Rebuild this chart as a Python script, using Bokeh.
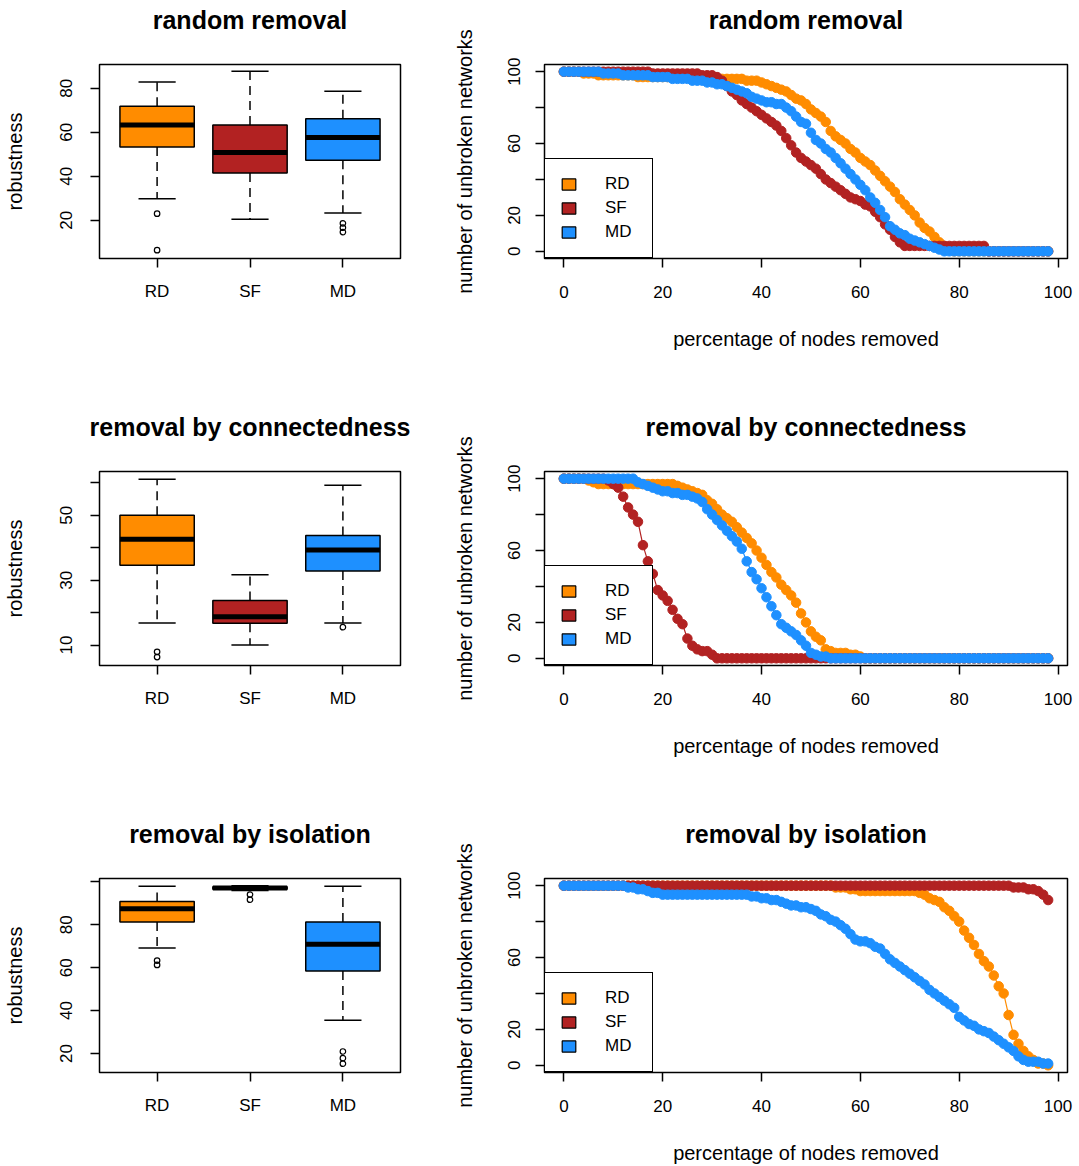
from bokeh.plotting import figure
from bokeh.layouts import column, row
from bokeh.models import Range1d, FixedTicker, Legend, LegendItem, LinearAxis
from bokeh.embed import file_html
from bokeh.resources import INLINE
import numpy as np

FONT = "Liberation Sans"
groups = ["RD", "SF", "MD"]
group_pos = [1, 2, 3]
group_colors = ["#FF8C00", "#B22222", "#1E90FF"]

panel_titles = ["random removal", "removal by connectedness", "removal by isolation"]

# ---------------- boxplot statistics ----------------
# order per panel: RD, SF, MD
box_low = [[29.8, 20.5, 23.3], [16.8, 10.0, 16.8], [69.2, 96.0, 35.5]]
box_q1 = [[53.3, 41.5, 47.3], [34.6, 16.7, 32.8], [81.3, 96.6, 58.4]]
box_med = [[63.3, 50.8, 57.6], [42.6, 18.7, 39.3], [87.5, 97.2, 70.9]]
box_q3 = [[71.8, 63.3, 66.1], [50.0, 23.7, 43.8], [90.9, 97.8, 81.3]]
box_high = [[82.9, 87.7, 78.6], [61.1, 31.7, 59.3], [98.0, 98.2, 98.0]]
box_out = [
    [[23.0, 6.4], [], [18.6, 16.6, 14.6]],
    [[7.9, 6.3], [], [15.5]],
    [[63.3, 61.3], [94.1, 91.7], [20.9, 17.8, 15.2]],
]
box_yrange = [(2.6, 90.8), (3.7, 63.5), (11.1, 101.6)]
box_yticks = [[20, 40, 60, 80], [10, 20, 30, 40, 50, 60], [20, 40, 60, 80, 100]]
box_yhidden = [[], [20, 40, 60], [100]]

# ---------------- unbroken networks vs percentage removed ----------------
pct_removed = list(range(99))

rd_random = [100, 100, 100, 100, 99, 99, 99, 98, 98, 98,
             98, 98, 98, 98, 98, 97, 97, 97, 97, 97,
             97, 97, 97, 97, 97, 97, 97, 97, 97, 97,
             96, 96, 96, 96, 96, 96, 96, 95, 95, 95,
             94, 93, 92, 91, 90, 89, 87, 85, 84, 82,
             79, 77, 75, 72, 67, 64, 62, 60, 57, 55,
             52, 50, 48, 45, 42, 39, 36, 33, 29, 26,
             23, 20, 16, 13, 11, 8, 5, 3, 1, 0,
             0, 0, 0, 0, 0, 0, 0, 0, 0, 0,
             0, 0, 0, 0, 0, 0, 0, 0, 0]
sf_random = [100, 100, 100, 100, 100, 100, 100, 100, 100, 100,
             100, 100, 100, 100, 100, 100, 100, 100, 99, 99,
             99, 99, 99, 99, 99, 99, 99, 99, 98, 98,
             98, 97, 95, 92, 89, 87, 84, 82, 80, 78,
             76, 74, 72, 70, 67, 63, 59, 55, 52, 50,
             48, 46, 43, 40, 38, 36, 34, 32, 30, 29,
             28, 26, 25, 22, 19, 15, 12, 8, 5, 3,
             3, 3, 3, 3, 3, 3, 3, 3, 3, 3,
             3, 3, 3, 3, 3, 3, 0, 0, 0, 0,
             0, 0, 0, 0, 0, 0, 0, 0, 0]
md_random = [100, 100, 100, 100, 100, 100, 100, 100, 99, 99,
             99, 99, 98, 98, 98, 98, 98, 98, 97, 97,
             97, 97, 96, 96, 96, 96, 95, 95, 95, 94,
             94, 93, 93, 92, 91, 90, 89, 88, 86, 85,
             84, 83, 83, 82, 82, 80, 78, 75, 72, 71,
             66, 62, 60, 57, 55, 52, 49, 46, 43, 40,
             37, 34, 30, 27, 23, 19, 14, 12, 10, 9,
             7, 6, 5, 4, 3, 2, 1, 0, 0, 0,
             0, 0, 0, 0, 0, 0, 0, 0, 0, 0,
             0, 0, 0, 0, 0, 0, 0, 0, 0]

rd_connect = [100, 100, 100, 100, 100, 99, 98, 97, 97, 97,
              97, 97, 97, 97, 97, 97, 97, 97, 97, 97,
              97, 97, 97, 96, 95, 94, 93, 92, 91, 88,
              86, 83, 80, 78, 76, 73, 70, 67, 64, 60,
              56, 52, 48, 45, 41, 38, 35, 31, 25, 20,
              15, 12, 10, 5, 4, 3, 3, 3, 2, 2,
              1, 0, 0, 0, 0, 0, 0, 0, 0, 0,
              0, 0, 0, 0, 0, 0, 0, 0, 0, 0,
              0, 0, 0, 0, 0, 0, 0, 0, 0, 0,
              0, 0, 0, 0, 0, 0, 0, 0, 0]
sf_connect = [100, 100, 100, 100, 100, 100, 100, 100, 100, 99,
              97, 95, 90, 84, 80, 76, 63, 54, 47, 38,
              35, 32, 27, 22, 19, 11, 7, 5, 4, 4,
              2, 0, 0, 0, 0, 0, 0, 0, 0, 0,
              0, 0, 0, 0, 0, 0, 0, 0, 0, 0,
              0, 0, 0, 0, 0, 0, 0, 0, 0, 0,
              0, 0, 0, 0, 0, 0, 0, 0, 0, 0,
              0, 0, 0, 0, 0, 0, 0, 0, 0, 0,
              0, 0, 0, 0, 0, 0, 0, 0, 0, 0,
              0, 0, 0, 0, 0, 0, 0, 0, 0]
md_connect = [100, 100, 100, 100, 100, 100, 100, 100, 100, 100,
              100, 100, 100, 100, 100, 98, 97, 96, 95, 94,
              93, 93, 92, 92, 91, 91, 90, 89, 87, 83,
              80, 77, 74, 71, 68, 65, 61, 54, 48, 44,
              39, 34, 29, 24, 19, 17, 15, 13, 10, 7,
              3, 2, 1, 1, 0, 0, 0, 0, 0, 0,
              0, 0, 0, 0, 0, 0, 0, 0, 0, 0,
              0, 0, 0, 0, 0, 0, 0, 0, 0, 0,
              0, 0, 0, 0, 0, 0, 0, 0, 0, 0,
              0, 0, 0, 0, 0, 0, 0, 0, 0]

rd_isolate = [100, 100, 100, 100, 100, 100, 100, 100, 100, 100,
              100, 100, 100, 100, 100, 100, 100, 100, 100, 100,
              100, 100, 100, 100, 100, 100, 100, 100, 100, 100,
              100, 100, 100, 100, 100, 100, 100, 100, 100, 100,
              100, 100, 100, 100, 100, 100, 100, 100, 100, 100,
              100, 100, 100, 100, 100, 99, 99, 99, 98, 98,
              97, 97, 97, 97, 97, 97, 97, 97, 97, 97,
              97, 97, 96, 95, 93, 92, 91, 88, 86, 83,
              80, 75, 71, 67, 62, 58, 55, 50, 44, 40,
              28, 17, 12, 8, 5, 3, 1, 1, 0]
sf_isolate = [100, 100, 100, 100, 100, 100, 100, 100, 100, 100,
              100, 100, 100, 100, 100, 100, 100, 100, 100, 100,
              100, 100, 100, 100, 100, 100, 100, 100, 100, 100,
              100, 100, 100, 100, 100, 100, 100, 100, 100, 100,
              100, 100, 100, 100, 100, 100, 100, 100, 100, 100,
              100, 100, 100, 100, 100, 100, 100, 100, 100, 100,
              100, 100, 100, 100, 100, 100, 100, 100, 100, 100,
              100, 100, 100, 100, 100, 100, 100, 100, 100, 100,
              100, 100, 100, 100, 100, 100, 100, 100, 100, 100,
              100, 99, 99, 99, 98, 98, 97, 95, 92]
md_isolate = [100, 100, 100, 100, 100, 100, 100, 100, 100, 100,
              100, 100, 100, 99, 99, 98, 98, 97, 96, 96,
              95, 95, 95, 95, 95, 95, 95, 95, 95, 95,
              95, 95, 95, 95, 95, 95, 95, 95, 94, 94,
              93, 93, 92, 92, 91, 90, 89, 89, 88, 88,
              87, 86, 84, 83, 81, 80, 78, 76, 73, 70,
              69, 69, 68, 66, 65, 62, 59, 57, 55, 53,
              51, 49, 47, 45, 42, 40, 38, 36, 34, 32,
              27, 25, 23, 22, 20, 19, 18, 16, 14, 12,
              10, 8, 5, 3, 2, 2, 2, 1, 1]

curves = [
    [rd_random, sf_random, md_random],
    [rd_connect, sf_connect, md_connect],
    [rd_isolate, sf_isolate, md_isolate],
]
line_xticks = [0, 20, 40, 60, 80, 100]
line_yticks = [0, 20, 40, 60, 80, 100]
line_yhidden = [40, 80]

# ---------------- layout constants ----------------
BOX_W, LINE_W = 420, 659
ROW_H = [407, 407, 352]
BOT = [149, 149, 94]


def base_fig(width, height, left, right, bottom, xr, yr, title):
    p = figure(width=width, height=height, x_range=xr, y_range=yr,
               output_backend="svg", toolbar_location=None, title=None,
               min_border_left=left, min_border_right=right,
               min_border_top=64, min_border_bottom=bottom)
    p.grid.visible = False
    p.background_fill_color = "white"
    p.border_fill_color = "white"
    p.outline_line_color = "black"
    p.outline_line_width = 1.5
    # panel title: label of a tick-less axis above the frame
    tax = LinearAxis(ticker=FixedTicker(ticks=[]), axis_label=title,
                     axis_line_color=None, major_tick_line_color=None,
                     minor_tick_line_color=None, major_tick_out=0, major_tick_in=0,
                     major_label_standoff=0, axis_label_standoff=31,
                     axis_label_text_font=FONT, axis_label_text_font_size="25px",
                     axis_label_text_font_style="bold", axis_label_text_color="black")
    p.add_layout(tax, "above")
    for ax in p.left + p.below:
        ax.axis_line_color = None
        ax.major_tick_in = 0
        ax.major_tick_out = 9
        ax.major_tick_line_width = 1.5
        ax.major_tick_line_color = "black"
        ax.minor_tick_line_color = None
        ax.major_label_text_font = FONT
        ax.major_label_text_font_size = "17px"
        ax.major_label_text_color = "black"
        ax.axis_label_text_font = FONT
        ax.axis_label_text_font_size = "20px"
        ax.axis_label_text_font_style = "normal"
        ax.axis_label_text_color = "black"
    p.below[0].major_label_standoff = 14
    p.left[0].major_label_standoff = 18
    p.left[0].major_label_orientation = "vertical"
    return p


rows = []
for i in range(3):
    # ---- boxplot ----
    bp = base_fig(BOX_W, ROW_H[i], 98, 20, BOT[i], Range1d(0.38, 3.62),
                  Range1d(*box_yrange[i]), panel_titles[i])
    pos = np.array(group_pos, dtype=float)
    bp.segment(x0=pos, x1=pos, y0=box_q3[i], y1=box_high[i], line_color="black",
               line_width=1.5, line_dash="9 6")
    bp.segment(x0=pos, x1=pos, y0=box_q1[i], y1=box_low[i], line_color="black",
               line_width=1.5, line_dash="9 6")
    bp.segment(x0=pos - 0.2, x1=pos + 0.2, y0=box_high[i], y1=box_high[i],
               line_color="black", line_width=1.5)
    bp.segment(x0=pos - 0.2, x1=pos + 0.2, y0=box_low[i], y1=box_low[i],
               line_color="black", line_width=1.5)
    bp.vbar(x=pos, width=0.8, bottom=box_q1[i], top=box_q3[i], fill_color=group_colors,
            line_color="black", line_width=1.5)
    bp.segment(x0=pos - 0.4, x1=pos + 0.4, y0=box_med[i], y1=box_med[i],
               line_color="black", line_width=5, line_cap="butt")
    ox, oy = [], []
    for g, outs in zip(group_pos, box_out[i]):
        ox += [g] * len(outs)
        oy += outs
    bp.scatter(ox, oy, marker="circle", size=5.5, fill_color=None, line_color="black",
               line_width=1.2)
    xax = bp.below[0]
    xax.ticker = FixedTicker(ticks=group_pos)
    xax.major_label_overrides = {g: n for g, n in zip(group_pos, groups)}
    yax = bp.left[0]
    yax.ticker = FixedTicker(ticks=box_yticks[i])
    yax.major_label_overrides = {t: "" for t in box_yhidden[i]}
    yax.axis_label = "robustness"
    yax.axis_label_standoff = 32

    # ---- curves ----
    lp = base_fig(LINE_W, ROW_H[i], 124, 12, BOT[i], Range1d(-3.92, 101.92),
                  Range1d(-4, 104), panel_titles[i])
    items = []
    for series, col, name in zip(curves[i], group_colors, groups):
        lp.line(pct_removed, series, line_color=col, line_width=1.2)
        lp.scatter(pct_removed, series, marker="circle", size=9.5, fill_color=col,
                   line_color=col)
    for col, name in zip(group_colors, groups):
        r = lp.quad(left=[np.nan], right=[np.nan], top=[np.nan], bottom=[np.nan],
                    fill_color=col, line_color="black", line_width=1.2)
        items.append(LegendItem(label=name, renderers=[r]))
    leg = Legend(items=items, location=(0, 0), margin=0, padding=15, spacing=4,
                 glyph_width=17, glyph_height=14, label_height=20, label_width=32,
                 label_standoff=28, border_line_color="black", border_line_width=1.5,
                 border_line_alpha=1.0,
                 background_fill_color="white", background_fill_alpha=1.0,
                 label_text_font=FONT, label_text_font_size="17px",
                 label_text_color="black")
    lp.add_layout(leg)
    lxax = lp.below[0]
    lxax.ticker = FixedTicker(ticks=line_xticks)
    lxax.major_label_standoff = 18
    lxax.axis_label = "percentage of nodes removed"
    lxax.axis_label_standoff = 27
    lyax = lp.left[0]
    lyax.ticker = FixedTicker(ticks=line_yticks)
    lyax.major_label_overrides = {t: "" for t in line_yhidden}
    lyax.axis_label = "number of unbroken networks"
    lyax.axis_label_standoff = 30
    lyax.major_label_standoff = 15
    rows.append(row(bp, lp))

layout = column(*rows)
open("out.html", "w").write(file_html(layout, INLINE))
